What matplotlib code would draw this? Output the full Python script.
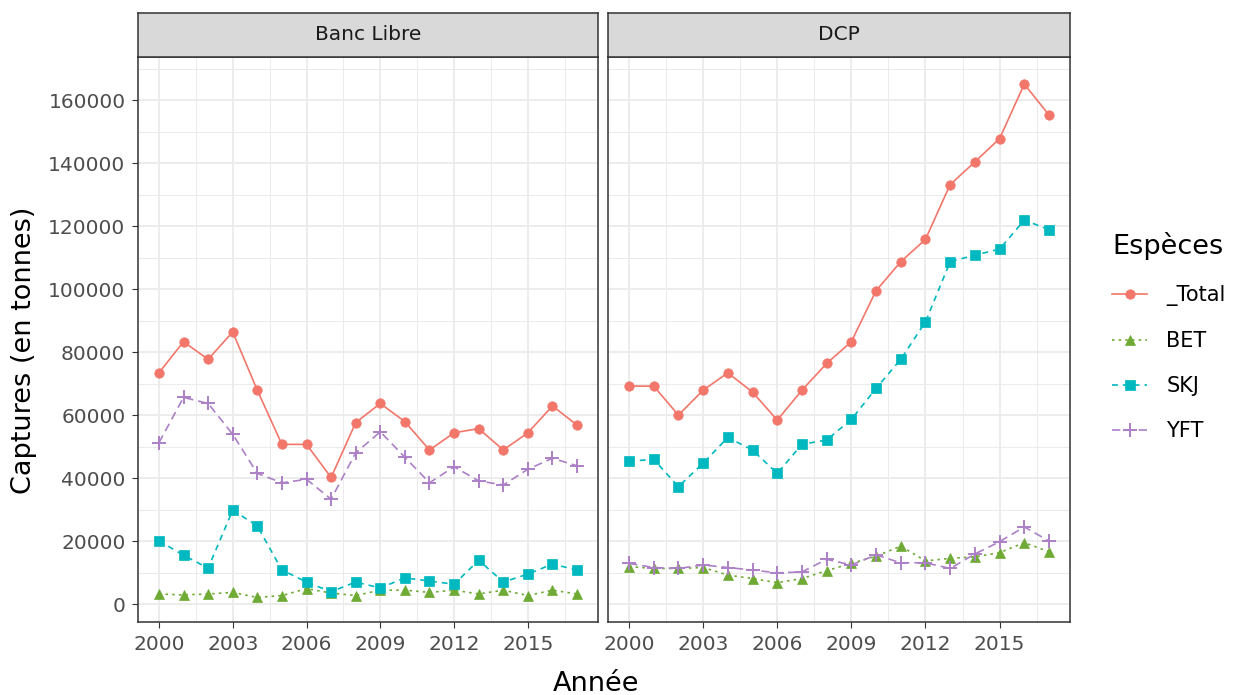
import matplotlib
matplotlib.use("Agg")
import matplotlib.pyplot as plt
from matplotlib.lines import Line2D

plt.rcParams['font.family'] = ['DejaVu Sans']

years = list(range(2000, 2018))
panels = ["Banc Libre", "DCP"]
especes = ["_Total", "BET", "SKJ", "YFT"]

banc_total = [73400, 83300, 77700, 86400, 67900, 50700, 50700, 40200, 57600,
              63700, 57900, 48900, 54400, 55700, 48900, 54400, 62900, 56800]
banc_bet = [3200, 2900, 3200, 3700, 2100, 2700, 4900, 3500, 2700,
            4400, 4400, 3700, 4400, 3200, 4400, 2700, 4400, 3200]
banc_skj = [20100, 15500, 11400, 29800, 24800, 10800, 7000, 3900, 7000,
            5100, 8300, 7300, 6300, 13900, 7000, 9500, 12700, 10800]
banc_yft = [51200, 65600, 63700, 53900, 41500, 38500, 39600, 33300, 48000,
            54700, 46600, 38500, 43600, 39100, 37800, 42800, 46300, 43900]

dcp_total = [69200, 69200, 60000, 67900, 73400, 67300, 58400, 67900, 76400,
             83300, 99500, 108700, 115800, 133200, 140400, 147800, 165100, 155300]
dcp_bet = [11900, 11300, 11300, 11600, 9200, 8100, 6800, 8100, 10600,
           12900, 15200, 18400, 13700, 14500, 15000, 16300, 19500, 16600]
dcp_skj = [45400, 45900, 37300, 44700, 52900, 48900, 41500, 50700, 52100,
           58600, 68500, 77700, 89600, 108700, 110800, 112700, 121900, 118900]
dcp_yft = [12900, 11600, 11300, 12400, 11600, 10800, 9900, 10200, 14200,
           12400, 15600, 13100, 13100, 11300, 15900, 19800, 24500, 20000]

data = {
    "Banc Libre": [banc_total, banc_bet, banc_skj, banc_yft],
    "DCP": [dcp_total, dcp_bet, dcp_skj, dcp_yft],
}

# ggplot-ish styles per species
colors = ['#F2766A', '#6FAA35', '#00B8BF', '#AC80C6']
markers = ['o', '^', 's', '+']
msizes = [6.8, 6.8, 6.8, 10]
dashes = ['-', (0, (1.5, 2.5)), (0, (3.5, 3)), (0, (5, 3))]

W, H = 1243, 695
fig = plt.figure(figsize=(W / 100, H / 100), dpi=100)

pan_x = [138, 608]
pan_w = [460, 462]
top, bottom = 57, 622
strip_top = 13

tick_col = '#4D4D4D'
for i, name in enumerate(panels):
    ax = fig.add_axes([pan_x[i] / W, (H - bottom) / H, pan_w[i] / W, (bottom - top) / H])
    ax.set_xlim(1999.15, 2017.85)
    ax.set_ylim(-5700, 173700)
    ax.set_xticks(range(2000, 2018, 3))
    ax.set_xticks([2001.5, 2004.5, 2007.5, 2010.5, 2013.5, 2016.5], minor=True)
    ax.set_yticks(range(0, 160001, 20000))
    ax.set_yticks(range(10000, 170001, 20000), minor=True)
    ax.grid(which='major', color='#EBEBEB', lw=1.3)
    ax.grid(which='minor', color='#EBEBEB', lw=0.7)
    ax.set_axisbelow(True)
    for s in ax.spines.values():
        s.set_color('#333333')
        s.set_linewidth(1.1)
    ax.tick_params(which='minor', length=0)
    ax.tick_params(which='major', length=4, color='#333333', labelsize=14.5,
                   labelcolor=tick_col, pad=5)
    if i == 1:
        ax.tick_params(axis='y', labelleft=False, length=0)
    for j, sp in enumerate(especes):
        ax.plot(years, data[name][j], color=colors[j], ls=dashes[j], lw=1.2,
                marker=markers[j], ms=msizes[j], mew=1.4 if markers[j] == '+' else 0.5,
                mec=colors[j], label=sp)

    sx = fig.add_axes([pan_x[i] / W, (H - top) / H, pan_w[i] / W, (top - strip_top) / H])
    sx.set_facecolor('#D9D9D9')
    sx.set_xticks([])
    sx.set_yticks([])
    for s in sx.spines.values():
        s.set_color('#333333')
        s.set_linewidth(1.1)
    sx.text(0.5, 0.5, name, ha='center', va='center', fontsize=14.5, color='#1A1A1A',
            transform=sx.transAxes)

fig.text(596 / W, 1 - 691 / H, "Année", ha='center', va='baseline', fontsize=19.5)
fig.text(24 / W, 1 - 350 / H, "Captures (en tonnes)", ha='center', va='center',
         fontsize=19.5, rotation=90)

handles = [Line2D([], [], color=colors[j], ls=dashes[j], lw=1.2, marker=markers[j],
                  ms=msizes[j], mew=1.4 if markers[j] == '+' else 0.5, mec=colors[j])
           for j in range(len(especes))]
leg = fig.legend(handles, especes, title="Espèces", loc='upper left',
                 bbox_to_anchor=(1112 / W, 1 - 232 / H), frameon=False,
                 fontsize=15, title_fontsize=19.5, handlelength=1.7,
                 handletextpad=0.9, labelspacing=1.2, borderpad=0,
                 borderaxespad=0, alignment='left')

fig.savefig("out.png", dpi=100)
